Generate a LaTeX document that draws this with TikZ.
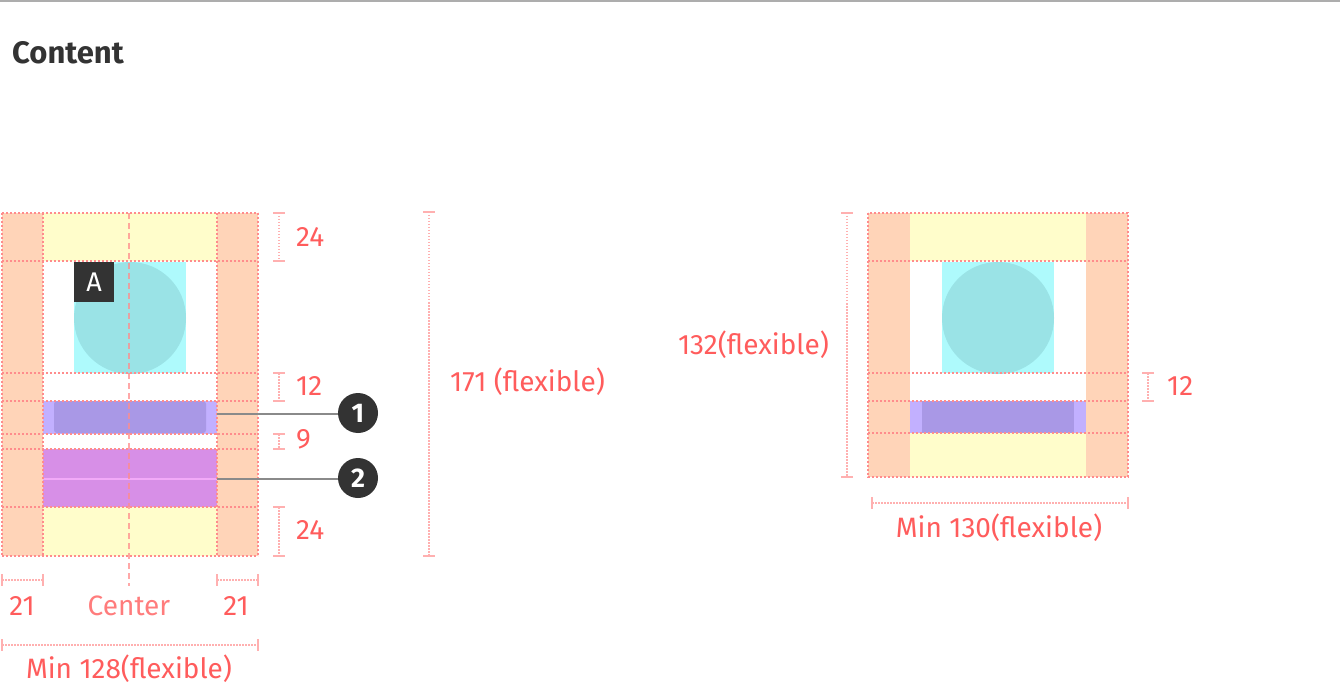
\documentclass[tikz,border=0pt]{standalone}
\usepackage{fontspec}
\setmainfont{Fira Sans}
\definecolor{orng}{HTML}{FFD4B8}
\definecolor{yel}{HTML}{FFFDCB}
\definecolor{cyn}{HTML}{AEFAFC}
\definecolor{circ}{HTML}{9AE3E6}
\definecolor{lav}{HTML}{C2B0FF}
\definecolor{pur}{HTML}{A998E6}
\definecolor{mag}{HTML}{D78FE7}
\definecolor{pinkline}{HTML}{F2AAF8}
\definecolor{redtxt}{HTML}{FF5C5C}
\definecolor{centertxt}{HTML}{FF7C7C}
\definecolor{gridc}{HTML}{FF8C8C}
\definecolor{dimc}{HTML}{FFB0B0}
\definecolor{dark}{HTML}{333333}
\definecolor{leader}{HTML}{8A8A8A}
\tikzset{
  gridline/.style={gridc, line width=1.6, dash pattern=on 2pt off 2pt},
  dimline/.style={dimc, line width=1.3, dash pattern=on 1.5pt off 1.5pt},
  dimtick/.style={dimc, line width=1.5},
  lbl/.style={text=redtxt, font=\fontsize{28}{32}\selectfont, inner sep=0pt},
  callout/.style={circle, fill=dark, text=white, minimum size=40pt, inner sep=0pt, font=\fontsize{27}{27}\selectfont\bfseries},
  leaderline/.style={leader, line width=2},
  centerline/.style={gridc, opacity=0.75, line width=1.5, dash pattern=on 6pt off 4pt},
}
\newcommand\vdimen[3]{%
  \draw[dimline] (#1,#2) -- (#1,#3);
  \draw[dimtick] (#1-6,#2) -- (#1+6,#2) (#1-6,#3) -- (#1+6,#3);}
\newcommand\hdimen[3]{%
  \draw[dimline] (#1,#3) -- (#2,#3);
  \draw[dimtick] (#1,#3-6) -- (#1,#3+6) (#2,#3-6) -- (#2,#3+6);}
\begin{document}
\begin{tikzpicture}[x=1pt,y=-1pt]
\useasboundingbox (0,0) rectangle (1340,684);
\fill[white] (0,0) rectangle (1340,684);
\draw[line width=2, black!32] (0,1) -- (1340,1);
\node[anchor=west, text=dark, font=\fontsize{31}{34}\selectfont\bfseries, inner sep=0pt] (title) at (12,53) {Content};

% ---------- left component ----------
\fill[orng] (2,213) rectangle (43,556);
\fill[orng] (217,213) rectangle (258,556);
\fill[yel] (43,213) rectangle (217,261);
\fill[yel] (43,507) rectangle (217,556);
\fill[cyn] (74,262) rectangle (186,373);
\fill[circ] (130,318) circle (56);
\fill[lav] (43,401) rectangle (217,434);
\fill[pur, rounded corners=3] (54,401) rectangle (206,433);
\fill[mag] (43,449) rectangle (217,507);
\draw[pinkline, line width=1.5] (43,479) -- (217,479);
\node[fill=dark, text=white, minimum size=40pt, inner sep=0pt, anchor=north west, font=\fontsize{27}{27}\selectfont] (badge) at (74,262) {A};
\foreach \yy in {213,261,373,401,434,449,507,556} \draw[gridline] (2,\yy) -- (258,\yy);
\foreach \xx in {2,43,217,258} \draw[gridline] (\xx,213) -- (\xx,556);
\draw[centerline] (129,213) -- (129,586);

\coordinate (bar1) at (217,414);
\coordinate (bar2) at (217,479);
\node[callout] (c1) at (358,413) {1};
\node[callout] (c2) at (358,478) {2};
\draw[leaderline] (bar1) -- (bar1 -| c1.west);
\draw[leaderline] (bar2) -- (bar2 -| c2.west);

\vdimen{279}{213}{261}
\node[lbl, anchor=west] (d24a) at (296,237) {24};
\vdimen{279}{373}{401}
\node[lbl, anchor=west] (d12a) at (296,386) {12};
\vdimen{279}{434}{449}
\node[lbl, anchor=west] (d9) at (296,439) {9};
\vdimen{279}{507}{556}
\node[lbl, anchor=west] (d24b) at (296,530) {24};
\vdimen{429}{212}{556}
\node[lbl, anchor=west] (d171) at (450,382) {171 (flexible)};

\hdimen{2}{43}{580}
\hdimen{217}{258}{580}
\node[lbl] (d21a) at (22,606) {21};
\node[lbl] (d21b) at (236,606) {21};
\node[lbl, text=centertxt] (ctr) at (129,606) {Center};
\hdimen{2}{258}{645}
\node[lbl] (d128) at (129,669) {Min 128(flexible)};

% ---------- right component ----------
\fill[orng] (868,213) rectangle (910,477);
\fill[orng] (1086,213) rectangle (1128,477);
\fill[yel] (910,213) rectangle (1086,261);
\fill[yel] (910,433) rectangle (1086,477);
\fill[cyn] (942,262) rectangle (1054,373);
\fill[circ] (998,318) circle (56);
\fill[lav] (910,401) rectangle (1086,433);
\fill[pur] (922,401) rectangle (1074,433);
\draw[gridline] (868,213) rectangle (1128,477);
\foreach \yy in {261,373,401,433} \draw[gridline] (868,\yy) -- (1128,\yy);

\vdimen{847}{213}{477}
\node[lbl, anchor=east] (d132) at (829,345) {132(flexible)};
\vdimen{1148}{373}{401}
\node[lbl, anchor=west] (d12b) at (1167,386) {12};
\hdimen{872}{1128}{503}
\node[lbl] (d130) at (999,528) {Min 130(flexible)};
\end{tikzpicture}
\end{document}
